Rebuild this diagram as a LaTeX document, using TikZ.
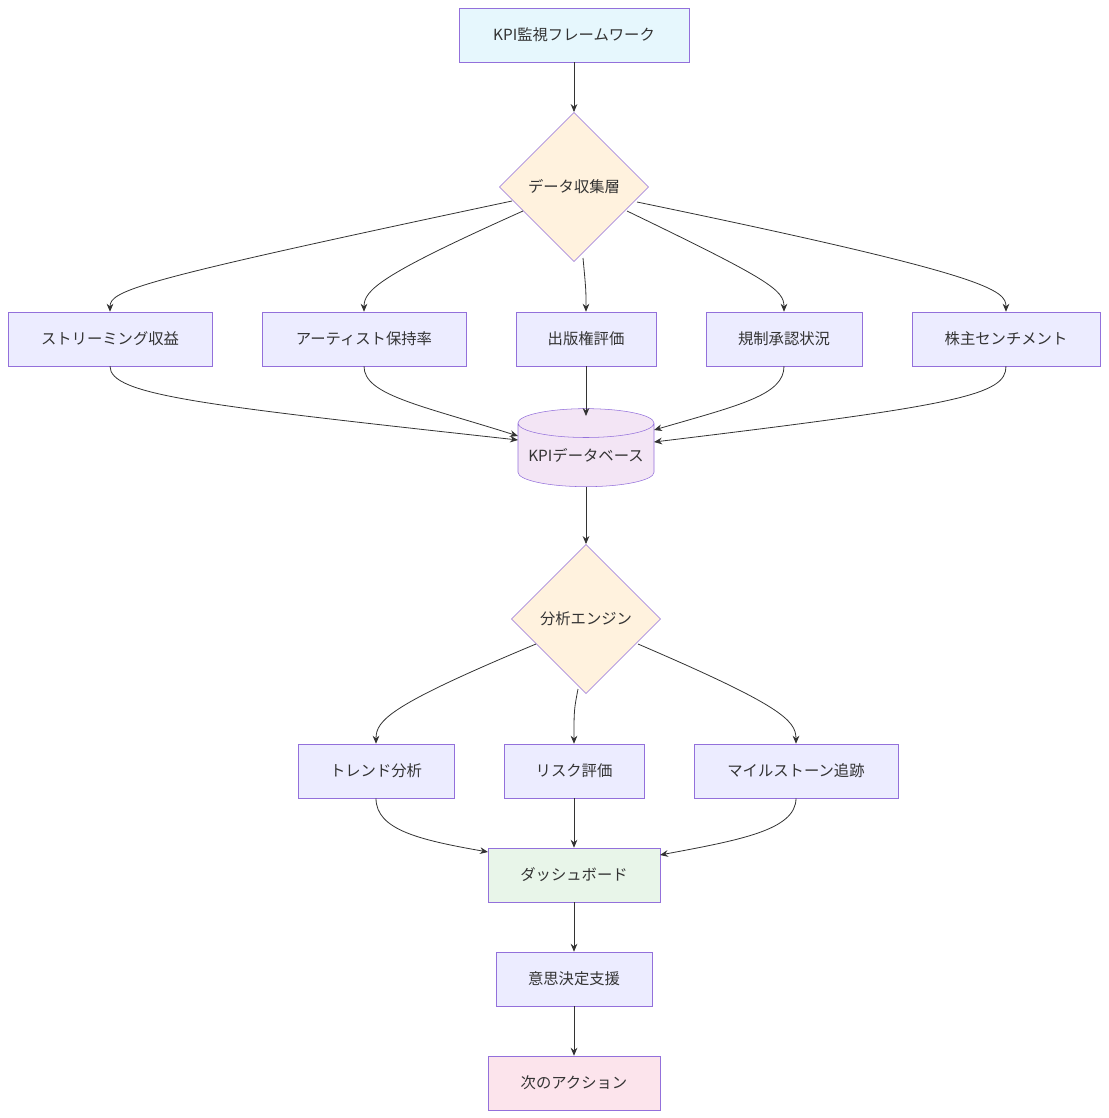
\documentclass[tikz,border=0pt]{standalone}
\usepackage{fontspec}
\setmainfont{Noto Sans CJK JP}
\usetikzlibrary{shapes.geometric,arrows.meta}
\definecolor{bd}{HTML}{9370DB}
\definecolor{bx}{HTML}{ECECFF}
\definecolor{tx}{HTML}{333333}
\begin{document}
\begin{tikzpicture}[x=0.75pt,y=-0.75pt,
 box/.style={draw=bd,fill=bx,minimum height=40.5pt,text=tx,font=\fontsize{11.5}{14}\selectfont,inner sep=0pt},
 dia/.style={draw=bd,fill=orange!15!yellow!12,diamond,minimum width=112pt,minimum height=112pt,aspect=1,inner sep=0pt,text=tx,font=\fontsize{11.5}{14}\selectfont},
 e/.style={draw=tx,line width=0.6pt,-{Stealth[length=6pt,width=5pt]}}]
\useasboundingbox (0,0) rectangle (1108,1118);
\node[box,fill=cyan!10,minimum width=172.5pt] (top) at (574,35) {KPI監視フレームワーク};
\node[dia,fill={rgb,255:red,255;green,242;blue,222}] (d1) at (574,187) {データ収集層};
\node[box,minimum width=153pt] (b1) at (110,339) {ストリーミング収益};
\node[box,minimum width=153pt] (b2) at (364,339) {アーティスト保持率};
\node[box,minimum width=105pt] (b3) at (586,339) {出版権評価};
\node[box,minimum width=117pt] (b4) at (784,339) {規制承認状況};
\node[box,minimum width=141pt] (b5) at (1006,339) {株主センチメント};
\node[cylinder,shape border rotate=90,aspect=0.25,draw=bd,fill={rgb,255:red,243;green,229;blue,245},minimum width=102pt,minimum height=58.5pt,inner sep=0pt,text=tx,font=\fontsize{11.5}{14}\selectfont] (db) at (586,455) {KPIデータベース};
\node[dia,fill={rgb,255:red,255;green,242;blue,222}] (d2) at (586,619) {分析エンジン};
\node[box,minimum width=117pt] (c1) at (376,771) {トレンド分析};
\node[box,minimum width=105pt] (c2) at (574,771) {リスク評価};
\node[box,minimum width=153pt] (c3) at (796,771) {マイルストーン追跡};
\node[box,fill={rgb,255:red,232;green,245;blue,233},minimum width=129pt] (dash) at (574,875) {ダッシュボード};
\node[box,minimum width=117pt] (dec) at (574,979) {意思決定支援};
\node[box,fill={rgb,255:red,252;green,228;blue,236},minimum width=129pt] (nx) at (574,1083) {次のアクション};
\draw[e] (top) -- (d1);
\draw[e] (512,201) .. controls (140,280) and (110,290) .. (b1.north);
\draw[e] (523,211) .. controls (380,275) and (364,290) .. (b2.north);
\draw[e] (583,258) .. controls (586,290) .. (b3.north);
\draw[e] (627,211) .. controls (770,280) and (784,290) .. (b4.north);
\draw[e] (637,202) .. controls (990,275) and (1006,290) .. (b5.north);
\draw[e] (b1.south) .. controls (110,395) and (200,405) .. (518,440);
\draw[e] (b2.south) .. controls (364,395) and (420,405) .. (518,436);
\draw[e] (b3) -- (586,416);
\draw[e] (b4.south) .. controls (784,395) and (740,405) .. (654,430);
\draw[e] (b5.south) .. controls (1006,395) and (960,405) .. (654,442);
\draw[e] (db) -- (d2);
\draw[e] (536,644) .. controls (390,705) and (376,720) .. (c1.north);
\draw[e] (578,689) .. controls (574,710) .. (c2.north);
\draw[e] (638,644) .. controls (780,705) and (796,720) .. (c3.north);
\draw[e] (c1.south) .. controls (376,830) and (420,840) .. (488,852);
\draw[e] (c2) -- (dash);
\draw[e] (c3.south) .. controls (796,830) and (740,840) .. (660,855);
\draw[e] (dash) -- (dec);
\draw[e] (dec) -- (nx);
\end{tikzpicture}
\end{document}
